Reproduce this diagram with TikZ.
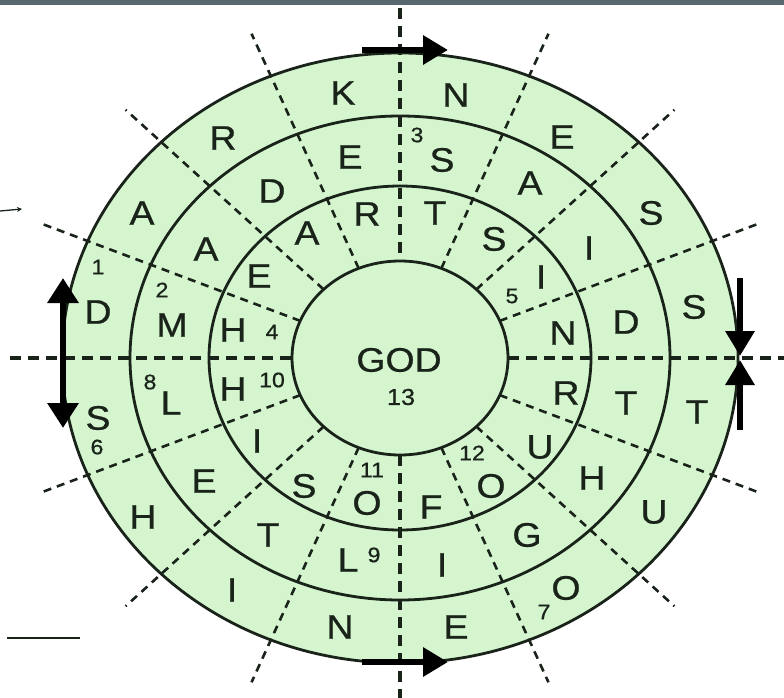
\documentclass[tikz,border=0pt]{standalone}
\usepackage{graphicx}
\usepackage{fontspec}
\setmainfont{Liberation Sans}
\newfontfamily\lfont{Liberation Sans}[FakeBold=0.7]
\usetikzlibrary{arrows.meta}
\definecolor{ringgreen}{RGB}{213,245,207}
\definecolor{ink}{RGB}{25,35,25}
\definecolor{topband}{RGB}{88,104,110}
\newcommand{\sx}[1]{\scalebox{1.1}[1]{#1}}
\tikzset{
  ringline/.style={draw=ink, line width=2.8pt},
  spoke/.style={draw=ink, line width=2.6pt, dash pattern=on 8pt off 6pt},
  axisline/.style={draw=ink, line width=4pt, dash pattern=on 11pt off 7pt},
  bigarrow/.style={draw=black, line width=6.5pt, -{Triangle[length=25pt,width=28pt]}},
  ltr/.style={font=\lfont\fontsize{34}{34}\selectfont, text=ink, inner sep=0pt},
  num/.style={font=\lfont\fontsize{21}{21}\selectfont, text=ink, inner sep=0pt},
  thinline/.style={draw=ink, line width=1.3pt}
}
\begin{document}
\begin{tikzpicture}[x=1pt,y=-1pt]
\useasboundingbox (0,0) rectangle (784,698);
\fill[white] (0,0) rectangle (784,698);
\fill[topband] (0,0) rectangle (784,5);
% rings fill
\fill[ringgreen] (400,358) ellipse [x radius=338pt, y radius=305pt];
% spokes
\foreach \t in {22.5,45,67.5,112.5,135,157.5,202.5,225,247.5,292.5,315,337.5}
  \draw[spoke] ({400+108*cos(\t)},{358-97*sin(\t)}) -- ({400+388*cos(\t)},{358-351*sin(\t)});
% axes
\draw[axisline] (10,358) -- (292,358);
\draw[axisline] (508,358) -- (784,358);
\draw[axisline] (400,8) -- (400,261);
\draw[axisline] (400,455) -- (400,698);
% ellipses
\draw[ringline] (400,358) ellipse [x radius=338pt, y radius=305pt];
\draw[ringline] (400,358) ellipse [x radius=270pt, y radius=242pt];
\draw[ringline] (400,358) ellipse [x radius=191pt, y radius=172pt];
\draw[ringline] (400,358) ellipse [x radius=108pt, y radius=97pt];
% arrows
\coordinate (ta1) at (362,50); \coordinate (ta2) at (448,50);
\coordinate (ba1) at (362,662); \coordinate (ba2) at (448,662);
\coordinate (la1) at (63,278); \coordinate (la2) at (63,428);
\coordinate (ra1) at (740,278); \coordinate (ra2) at (740,356);
\coordinate (rb1) at (740,430); \coordinate (rb2) at (740,360);
\draw[bigarrow] (ta1) -- (ta2);
\draw[bigarrow] (ba1) -- (ba2);
\draw[bigarrow, {Triangle[length=25pt,width=30pt]}-{Triangle[length=25pt,width=30pt]}] (la1) -- (la2);
\draw[bigarrow] (ra1) -- (ra2);
\draw[bigarrow] (rb1) -- (rb2);
% stray marks
\coordinate (sa1) at (0,211); \coordinate (sa2) at (22,209);
\draw[thinline, -{Stealth[length=5pt,width=5pt]}] (sa1) -- (sa2);
\coordinate (sl1) at (7,638); \coordinate (sl2) at (80,638);
\draw[thinline] (sl1) -- (sl2);
% outer ring letters
\foreach \c/\x/\y [count=\i] in {D/98/312, A/142/213, R/223/138, K/343/93, N/456/95, E/562/137, S/651/213, S/694/307, T/697/412, U/654/512, O/566/588, E/456/627, N/340/627, I/232/590, H/143/517, S/98/418}
  \node[ltr] (o\i) at (\x,\y) {\sx{\c}};
% second ring letters
\foreach \c/\x/\y [count=\i] in {M/172/325, A/206/249, D/272/191, E/350/157, S/442/160, A/530/183, I/589/248, D/626/322, T/626/403, H/592/478, G/527/535, I/442/565, L/348/560, T/268/535, E/204/481, L/171/403}
  \node[ltr] (m\i) at (\x,\y) {\sx{\c}};
% third ring letters
\foreach \c/\x/\y [count=\i] in {H/233/330, E/259/276, A/307/233, R/367/214, T/435/213, S/494/239, I/541/277, N/563/333, R/566/393, U/540/447, O/491/486, F/431/507, O/367/503, S/304/486, I/257/441, H/233/389}
  \node[ltr] (n\i) at (\x,\y) {\sx{\c}};
% numbers
\foreach \c/\x/\y in {1/98/267, 2/162/290, 3/417/135, 4/272/332, 5/512/296, 6/97/447, 7/544/612, 8/150/382, 9/374/555, 10/272/380, 11/372/470, 12/472/453}
  \node[num] (k\c) at (\x,\y) {\sx{\c}};
\node[ltr] (god) at (399,360) {\sx{GOD}};
\node[num, font=\lfont\fontsize{23}{23}\selectfont] (k13) at (401,397) {\sx{13}};
\end{tikzpicture}
\end{document}
